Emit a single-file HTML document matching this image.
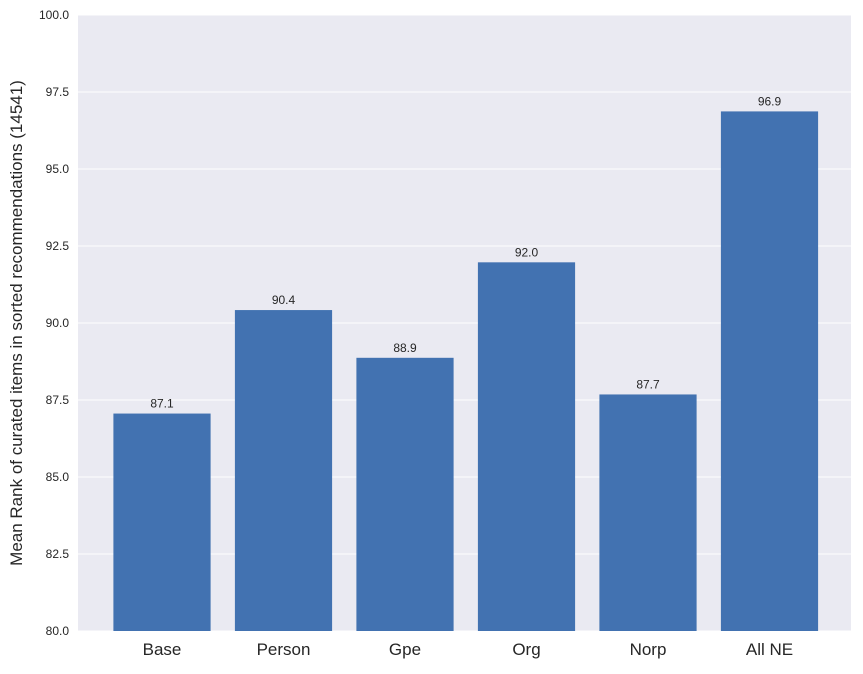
<!DOCTYPE html>
<html><head><meta charset="utf-8"><style>
body{margin:0;background:#fff;font-family:"Liberation Sans",sans-serif;}
</style></head><body>
<svg id="chart" width="863" height="669" xmlns="http://www.w3.org/2000/svg"></svg>
<script>
const categories=["Base","Person","Gpe","Org","Norp","All NE"];
const values=[87.06,90.42,88.87,91.97,87.68,96.87];
const valueLabels=["87.1","90.4","88.9","92.0","87.7","96.9"];
const yTicks=[80,82.5,85,87.5,90,92.5,95,97.5,100];
const L=78,R=851,T=15,B=631,yMin=80,yMax=100;
const step=121.5;
const xs=i=>L+84+i*step;
const bw=0.8*step;
const ys=v=>B-(v-yMin)/(yMax-yMin)*(B-T);
const svg=document.getElementById('chart');
const NS="http://www.w3.org/2000/svg";
function mk(t,a,txt){const e=document.createElementNS(NS,t);for(const k in a)e.setAttribute(k,a[k]);if(txt!==undefined)e.textContent=txt;svg.appendChild(e);return e;}
const bg=mk('rect',{x:L,y:T,width:R-L,height:B-T,fill:'#eaeaf2'});


yTicks.forEach(v=>{
 const g=mk('line',{x1:L,x2:R,y1:ys(v),y2:ys(v),stroke:'#fff','stroke-width':1});
 
 
 const t=mk('text',{x:L-9,y:ys(v)+4,'text-anchor':'end','font-size':12,fill:'#262626'},v.toFixed(1));
 
 
});
categories.forEach((c,i)=>{
 const r=mk('rect',{x:xs(i)-bw/2,y:ys(values[i]),width:bw,height:B-ys(values[i]),fill:'#4272b1'});
 
 
 const vl=mk('text',{x:xs(i),y:ys(values[i])-6,'text-anchor':'middle','font-size':12,fill:'#262626'},valueLabels[i]);
 
 
 const xl=mk('text',{x:xs(i),y:655,'text-anchor':'middle','font-size':17,fill:'#262626'},c);
 
 
});
const yt=mk('text',{x:0,y:0,transform:'translate(22,'+((T+B)/2)+') rotate(-90)','text-anchor':'middle','font-size':17,fill:'#262626'},'Mean Rank of curated items in sorted recommendations (14541)');


</script>
</body></html>
